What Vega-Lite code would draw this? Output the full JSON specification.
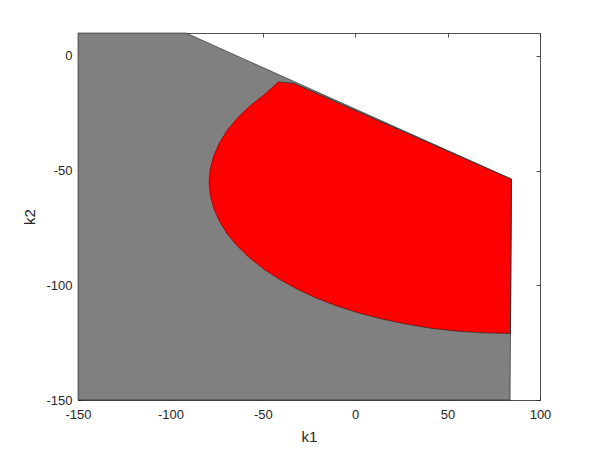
{
  "$schema": "https://vega.github.io/schema/vega-lite/v6.json",
  "width": 462,
  "height": 367,
  "autosize": {"type": "none"},
  "padding": {"left": 78, "top": 33, "right": 58, "bottom": 49},
  "background": "white",
  "config": {
    "view": {"stroke": null},
    "font": "Liberation Sans",
    "axis": {
      "grid": false,
      "domainColor": "#262626",
      "domainWidth": 0.8,
      "tickColor": "#262626",
      "tickWidth": 0.8,
      "tickSize": -4,
      "labelFlush": false,
      "labelOverlap": false,
      "labelExpr": "'' + datum.value",
      "labelColor": "#262626",
      "labelFontSize": 13,
      "labelFont": "Liberation Sans",
      "titleColor": "#262626",
      "titleFontSize": 15,
      "titleFont": "Liberation Sans",
      "titleFontWeight": "normal"
    }
  },
  "datasets": {
    "gray": [
      {"i": 0, "k1": -150, "k2": 10},
      {"i": 1, "k1": -91.6, "k2": 10},
      {"i": 2, "k1": 84.6, "k2": -53.7},
      {"i": 3, "k1": 83.8, "k2": -150},
      {"i": 4, "k1": -150, "k2": -150}
    ],
    "red": [
      {"i": 0, "k1": -41.5, "k2": -11.3},
      {"i": 1, "k1": -33, "k2": -12},
      {"i": 2, "k1": 84.6, "k2": -53.7},
      {"i": 3, "k1": 84, "k2": -121},
      {"i": 4, "k1": 69.8, "k2": -120.7},
      {"i": 5, "k1": 55.7, "k2": -120.0},
      {"i": 6, "k1": 41.8, "k2": -118.8},
      {"i": 7, "k1": 28.3, "k2": -117.0},
      {"i": 8, "k1": 15.1, "k2": -114.8},
      {"i": 9, "k1": 2.5, "k2": -112.2},
      {"i": 10, "k1": -9.5, "k2": -109.1},
      {"i": 11, "k1": -20.8, "k2": -105.6},
      {"i": 12, "k1": -31.3, "k2": -101.7},
      {"i": 13, "k1": -40.9, "k2": -97.4},
      {"i": 14, "k1": -49.5, "k2": -92.9},
      {"i": 15, "k1": -57.2, "k2": -88.0},
      {"i": 16, "k1": -63.7, "k2": -82.9},
      {"i": 17, "k1": -69.2, "k2": -77.6},
      {"i": 18, "k1": -73.4, "k2": -72.1},
      {"i": 19, "k1": -76.5, "k2": -66.5},
      {"i": 20, "k1": -78.4, "k2": -60.8},
      {"i": 21, "k1": -79, "k2": -55},
      {"i": 22, "k1": -78.4, "k2": -49.2},
      {"i": 23, "k1": -76.5, "k2": -43.5},
      {"i": 24, "k1": -73.4, "k2": -37.9},
      {"i": 25, "k1": -69.2, "k2": -32.4},
      {"i": 26, "k1": -63.7, "k2": -27.1},
      {"i": 27, "k1": -57.2, "k2": -22.0},
      {"i": 28, "k1": -49.5, "k2": -17.1},
      {"i": 29, "k1": -41.5, "k2": -11.3}
    ]
  },
  "layer": [
    {
      "data": {"name": "gray"},
      "mark": {"type": "line", "fill": "#808080", "stroke": "#1a1a1a", "strokeWidth": 0.6, "interpolate": "linear-closed"},
      "encoding": {
        "x": {
          "field": "k1", "type": "quantitative",
          "scale": {"domain": [-150, 100], "nice": false, "zero": false},
          "axis": {"orient": "bottom", "values": [-150, -100, -50, 0, 50, 100], "title": "k1", "labelPadding": 12, "titlePadding": 8}
        },
        "y": {
          "field": "k2", "type": "quantitative",
          "scale": {"domain": [-150, 10], "nice": false, "zero": false},
          "axis": {"orient": "left", "values": [-150, -100, -50, 0], "title": "k2", "labelPadding": 10, "titlePadding": 8}
        },
        "order": {"field": "i", "type": "quantitative"}
      }
    },
    {
      "data": {"name": "red"},
      "mark": {"type": "line", "fill": "#ff0000", "stroke": "#1a1a1a", "strokeWidth": 0.6, "interpolate": "linear-closed"},
      "encoding": {
        "x": {"field": "k1", "type": "quantitative", "axis": null},
        "y": {"field": "k2", "type": "quantitative", "axis": null},
        "order": {"field": "i", "type": "quantitative"}
      }
    },
    {
      "data": {"name": "gray"},
      "mark": {"type": "point", "opacity": 0},
      "encoding": {
        "x": {
          "field": "k1", "type": "quantitative",
          "axis": {"orient": "top", "values": [-150, -100, -50, 0, 50, 100], "labels": false, "title": null}
        },
        "y": {
          "field": "k2", "type": "quantitative",
          "axis": {"orient": "right", "values": [-150, -100, -50, 0], "labels": false, "title": null}
        }
      }
    }
  ],
  "resolve": {"axis": {"x": "independent", "y": "independent"}}
}
